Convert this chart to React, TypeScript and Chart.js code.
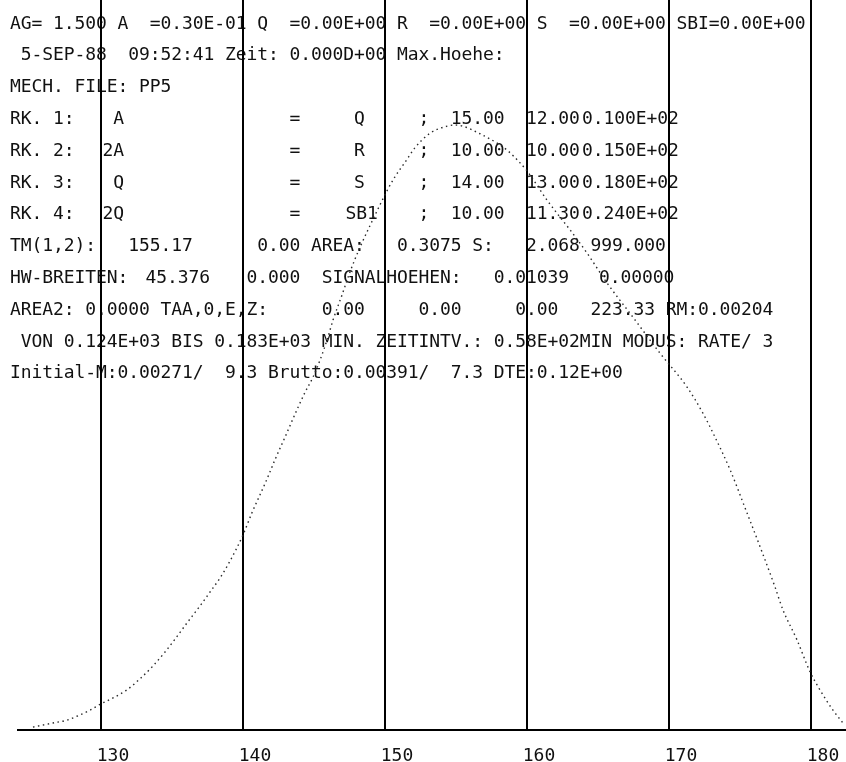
import React, { useEffect, useRef } from "react";
import { Chart, registerables } from "chart.js";

Chart.register(...registerables);

// Retention time (x) and signal height (y) of the dotted trace
const retentionTime = [
  125.21, 126.62, 127.61, 128.52, 129.23, 130.0, 130.85, 131.83, 132.75, 133.66,
  134.51, 135.21, 136.06, 136.97, 137.68, 138.38, 139.08, 140.0, 140.63, 141.2,
  141.69, 142.25, 142.96, 143.8, 144.37, 144.93, 145.42, 145.92, 146.34, 146.97,
  147.54, 148.24, 148.94, 149.65, 150.14, 150.7, 151.41, 152.11, 153.17, 154.37,
  154.93, 155.49, 156.69, 157.89, 158.59, 159.51, 160.07, 161.41, 162.32, 163.03,
  164.23, 165.63, 167.46, 169.37, 171.27, 172.39, 173.24, 174.3, 175.49, 176.55,
  177.46, 178.03, 179.01, 179.93, 180.63, 181.55, 182.25,
];
const signalHeight = [
  0.00005, 0.00012, 0.00017, 0.00026, 0.00034, 0.00045, 0.00055, 0.00069, 0.00088, 0.0011,
  0.00134, 0.00156, 0.00184, 0.00213, 0.00237, 0.00261, 0.0029, 0.00335, 0.00373, 0.00404,
  0.00431, 0.00464, 0.00503, 0.0055, 0.0058, 0.00606, 0.00635, 0.0067, 0.00704, 0.00747,
  0.00787, 0.00829, 0.00866, 0.00902, 0.00926, 0.0095, 0.00975, 0.01, 0.01025, 0.01037,
  0.01039, 0.01037, 0.01024, 0.01008, 0.00996, 0.00974, 0.00958, 0.0091, 0.00881, 0.00859,
  0.00819, 0.00768, 0.00709, 0.00647, 0.00589, 0.00544, 0.00503, 0.00447, 0.00373, 0.00306,
  0.00246, 0.00206, 0.00155, 0.001, 0.00069, 0.00034, 0.00012,
];

const xTickValues = [130, 140, 150, 160, 170, 180];
const xRange = [124.155, 182.465];
const yRange = [0, 0.012537];

// Printed header lines: [character column, text]
const headerLines: [number, string][][] = [
  [[0, "AG= 1.500 A  =0.30E-01 Q  =0.00E+00 R  =0.00E+00 S  =0.00E+00 SBI=0.00E+00"]],
  [[0, " 5-SEP-88  09:52:41 Zeit: 0.000D+00 Max.Hoehe:"]],
  [[0, "MECH. FILE: PP5"]],
  [[0, "RK. 1:"], [8.6, " A"], [26, "="], [32, "Q"], [38, ";"], [41, "15.00"], [48, "12.00"], [53.2, "0.100E+02"]],
  [[0, "RK. 2:"], [8.6, "2A"], [26, "="], [32, "R"], [38, ";"], [41, "10.00"], [48, "10.00"], [53.2, "0.150E+02"]],
  [[0, "RK. 3:"], [8.6, " Q"], [26, "="], [32, "S"], [38, ";"], [41, "14.00"], [48, "13.00"], [53.2, "0.180E+02"]],
  [[0, "RK. 4:"], [8.6, "2Q"], [26, "="], [31.2, "SB1"], [38, ";"], [41, "10.00"], [48, "11.30"], [53.2, "0.240E+02"]],
  [[0, "TM(1,2):"], [11, "155.17"], [23, "0.00 AREA:"], [36, "0.3075 S:"], [48, "2.068 999.000"]],
  [[0, "HW-BREITEN:"], [12.6, "45.376"], [22, "0.000"], [29, "SIGNALHOEHEN:"], [45, "0.01039"], [54.8, "0.00000"]],
  [[0, "AREA2: 0.0000 TAA,0,E,Z:"], [29, "0.00"], [38, "0.00"], [47, "0.00"], [54, "223.33 RM:0.00204"]],
  [[0, " VON 0.124E+03 BIS 0.183E+03 MIN. ZEITINTV.: 0.58E+02MIN MODUS: RATE/ 3"]],
  [[0, "Initial-M:0.00271/  9.3 Brutto:0.00391/  7.3 DTE:0.12E+00"]],
];

const FONT = '"DejaVu Sans Mono", "Liberation Mono", monospace';

const headerPlugin = {
  id: "plotHeader",
  beforeDraw(chart: any) {
    const ctx = chart.ctx as CanvasRenderingContext2D;
    ctx.save();
    ctx.fillStyle = "#ffffff";
    ctx.fillRect(0, 0, chart.width, chart.height);
    ctx.fillStyle = "#111111";
    ctx.font = `18px ${FONT}`;
    ctx.textBaseline = "alphabetic";
    ctx.textAlign = "left";
    const advance = 10.75;
    headerLines.forEach((line, r) => {
      const y = 28.5 + r * 31.8;
      line.forEach(([col, text]) => {
        for (let i = 0; i < text.length; i++) {
          const ch = text[i];
          if (ch !== " ") ctx.fillText(ch, 10 + (col + i) * advance, y);
        }
      });
    });
    ctx.restore();
  },
};

export default function App() {
  const canvasRef = useRef<HTMLCanvasElement | null>(null);

  useEffect(() => {
    document.body.style.margin = "0";
    const canvas = canvasRef.current;
    if (!canvas) return;
    const chart = new Chart(canvas, {
      type: "line",
      data: {
        datasets: [
          {
            data: retentionTime.map((x, i) => ({ x, y: signalHeight[i] })),
            borderColor: "#2a2a2a",
            borderWidth: 1.4,
            borderDash: [1.5, 3.5],
            pointRadius: 0,
            fill: false,
            cubicInterpolationMode: "monotone",
          },
        ],
      },
      options: {
        animation: false,
        responsive: false,
        devicePixelRatio: 1,
        layout: { padding: { left: 18, right: 0, top: 0, bottom: 0 } },
        plugins: {
          legend: { display: false },
          tooltip: { enabled: false },
          title: { display: false },
        },
        scales: {
          x: {
            type: "linear",
            min: xRange[0],
            max: xRange[1],
            afterBuildTicks: (scale: any) => {
              scale.ticks = xTickValues.map((v) => ({ value: v }));
            },
            afterFit: (scale: any) => {
              scale.height = 32;
            },
            grid: {
              color: "#000000",
              lineWidth: 2,
              drawTicks: false,
            },
            border: { display: true, color: "#000000", width: 2 },
            ticks: {
              color: "#111111",
              font: { family: FONT, size: 18 },
              padding: 16,
              labelOffset: 12,
              maxRotation: 0,
              autoSkip: false,
              callback: (v: any) => String(v),
            },
          },
          y: {
            type: "linear",
            display: false,
            min: yRange[0],
            max: yRange[1],
          },
        },
      },
      plugins: [headerPlugin],
    });
    return () => chart.destroy();
  }, []);

  return (
    <div style={{ width: 846, height: 762, background: "#fff" }}>
      <canvas ref={canvasRef} width={846} height={762} style={{ display: "block" }} />
    </div>
  );
}
